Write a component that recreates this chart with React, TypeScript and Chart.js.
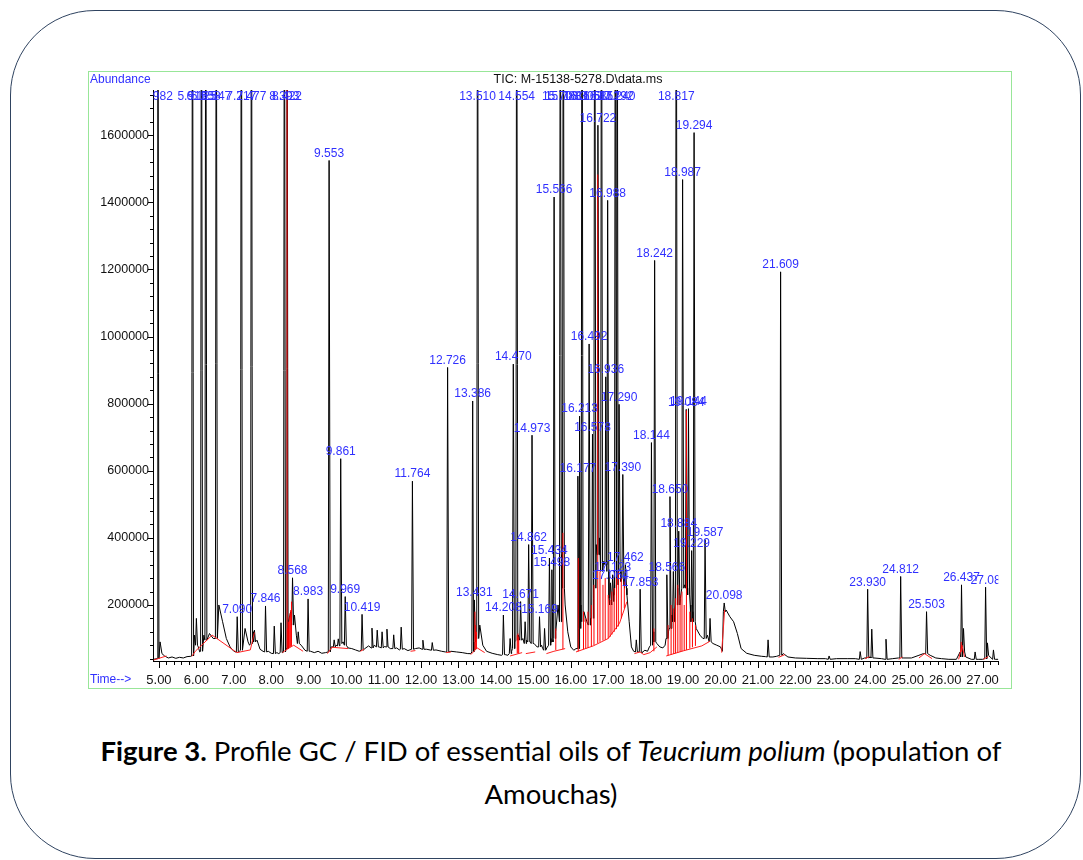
import React, { useEffect, useRef } from "react";
import { Chart, registerables } from "chart.js";
Chart.register(...registerables);

// ---------------- data ----------------
const peakTimes = [
  4.97, 5.895, 6.0, 6.135, 6.25, 6.53, 7.09, 7.2, 7.47, 7.55, 7.846, 8.08, 8.26, 8.35, 8.42,
  8.568, 8.72, 8.983, 9.545, 9.68, 9.79, 9.855, 9.975, 10.425, 10.69, 10.83, 10.96, 11.09,
  11.27, 11.47, 11.77, 12.05, 12.3, 12.71, 13.38, 13.425, 13.51, 14.2, 14.38, 14.465, 14.555,
  14.66, 14.78, 14.875, 14.965, 15.165, 15.3, 15.43, 15.495, 15.555, 15.72, 15.8, 16.19,
  16.235, 16.3, 16.49, 16.58, 16.64, 16.725, 16.82, 16.935, 16.985, 17.06, 17.12, 17.19,
  17.24, 17.29, 17.39, 17.46, 17.75, 17.853, 18.155, 18.24, 18.566, 18.65, 18.74, 18.817,
  18.884, 18.987, 19.084, 19.144, 19.229, 19.294, 19.587, 19.72, 20.098, 21.27, 21.605,
  22.9, 23.73, 23.93, 24.04, 24.42, 24.812, 25.503, 26.437, 26.49, 26.8, 27.08, 27.13, 27.29,
];
const peakHeights = [
  2500000, 2500000, 160000, 2500000, 2500000, 2500000, 165000, 2500000, 2500000, 125000, 197000,
  137000, 147000, 2500000, 2500000, 281000, 120000, 218000, 1525000, 96000, 99000, 636000,
  225000, 172000, 131000, 125000, 120000, 128000, 111000, 134000, 569000, 95000, 88000, 908000,
  808000, 215000, 2500000, 170000, 100000, 918000, 2500000, 210000, 150000, 380000, 706000,
  165000, 130000, 340000, 305000, 1416000, 2500000, 2500000, 584000, 763000, 2500000, 978000,
  709000, 2500000, 1630000, 2500000, 880000, 1406000, 266000, 290000, 2500000, 2500000, 798000,
  589000, 320000, 96000, 247000, 684000, 1227000, 290000, 523000, 300000, 2500000, 420000,
  1468000, 783000, 785000, 362000, 1608000, 395000, 160000, 206000, 96000, 1193000, 48000,
  61000, 247000, 128000, 98000, 285000, 180000, 260000, 130000, 60000, 253000, 87000, 66000,
];
const peakFeet = [
  40000, 48000, 80000, 62000, 95000, 100000, 60000, 65000, 85000, 90000, 60000, 55000, 58000,
  60000, 70000, 140000, 85000, 62000, 60000, 75000, 78000, 85000, 80000, 65000, 72000, 75000,
  72000, 75000, 70000, 68000, 68000, 68000, 65000, 60000, 60000, 90000, 100000, 52000, 55000,
  70000, 95000, 95000, 85000, 90000, 85000, 75000, 65000, 80000, 90000, 100000, 150000, 250000,
  70000, 130000, 150000, 140000, 160000, 250000, 350000, 300000, 320000, 300000, 200000, 210000,
  250000, 260000, 300000, 280000, 250000, 60000, 60000, 80000, 90000, 100000, 130000, 150000,
  200000, 200000, 250000, 250000, 230000, 150000, 150000, 100000, 90000, 180000, 45000, 50000,
  38000, 38000, 42000, 42000, 38000, 42000, 55000, 45000, 60000, 38000, 40000, 50000, 38000,
];
const peakLabels = [
  "4.982", "5.915", "", "6.125", "6.258", "6.547", "7.090", "7.217", "7.477", "", "7.846", "",
  "", "8.393", "8.422", "8.568", "", "8.983", "9.553", "", "", "9.861", "9.969", "10.419", "",
  "", "", "", "", "", "11.764", "", "", "12.726", "13.386", "13.431", "13.510", "14.208", "",
  "14.470", "14.554", "14.671", "", "14.862", "14.973", "15.169", "", "15.434", "15.498",
  "15.566", "15.708", "15.788", "16.177", "16.213", "16.305", "16.492", "16.578", "16.615",
  "16.722", "16.812", "16.936", "16.988", "17.064", "17.123", "17.192", "17.240", "17.290",
  "17.390", "17.462", "", "17.853", "18.144", "18.242", "18.566", "18.650", "", "18.817",
  "18.884", "18.987", "19.084", "19.144", "19.229", "19.294", "19.587", "", "20.098", "",
  "21.609", "", "", "23.930", "", "", "24.812", "25.503", "26.437", "", "", "27.08", "", "",
];

const valleyTimes = [
  4.85, 5.03, 5.08, 5.15, 5.25, 5.35, 5.45, 5.55, 5.65, 5.75, 5.85, 5.95, 6.05, 6.09, 6.2, 6.35,
  6.45, 6.6, 6.7, 6.8, 6.9, 7.0, 7.05, 7.15, 7.3, 7.38, 7.42, 7.52, 7.62, 7.7, 7.78, 7.92, 8.0,
  8.15, 8.2, 8.3, 8.46, 8.52, 8.62, 8.67, 8.8, 8.9, 9.05, 9.15, 9.25, 9.35, 9.45, 9.6, 9.73,
  9.92, 10.05, 10.15, 10.25, 10.35, 10.5, 10.6, 10.75, 10.9, 11.02, 11.18, 11.35, 11.42, 11.55,
  11.65, 11.85, 11.95, 12.15, 12.4, 12.55, 12.65, 12.8, 12.95, 13.1, 13.25, 13.33, 13.46,
  13.57, 13.65, 13.75, 13.9, 14.05, 14.15, 14.25, 14.32, 14.42, 14.51, 14.6, 14.72, 14.82,
  14.92, 15.02, 15.1, 15.22, 15.25, 15.36, 15.47, 15.52, 15.6, 15.66, 15.76, 15.85, 15.92, 16.0,
  16.08, 16.14, 16.27, 16.35, 16.43, 16.53, 16.61, 16.68, 16.77, 16.88, 16.96, 17.02, 17.09,
  17.155, 17.265, 17.34, 17.42, 17.5, 17.56, 17.62, 17.68, 17.8, 17.9, 17.98, 18.05, 18.1, 18.2,
  18.3, 18.38, 18.46, 18.52, 18.61, 18.7, 18.78, 18.85, 18.93, 19.04, 19.19, 19.26, 19.35,
  19.45, 19.53, 19.65, 19.8, 19.9, 20.0, 20.05, 20.15, 20.25, 20.35, 20.45, 20.55, 20.7, 20.9,
  21.1, 21.2, 21.4, 21.5, 21.68, 21.8, 22.0, 22.3, 22.6, 22.8, 23.1, 23.4, 23.6, 23.85, 24.0,
  24.1, 24.3, 24.6, 24.75, 24.9, 25.1, 25.3, 25.42, 25.6, 25.75, 25.9, 26.1, 26.3, 26.4, 26.55,
  26.7, 26.9, 27.0, 27.2, 27.35, 27.42,
];
const valleyValues = [
  38000, 90000, 55000, 48000, 42000, 45000, 41000, 44000, 42000, 46000, 47000, 110000, 75000,
  60000, 110000, 115000, 100000, 200000, 150000, 100000, 75000, 62000, 60000, 62000, 130000,
  90000, 80000, 120000, 95000, 68000, 62000, 62000, 56000, 58000, 55000, 60000, 150000, 180000,
  170000, 110000, 80000, 65000, 62000, 58000, 62000, 56000, 58000, 75000, 80000, 90000, 72000,
  70000, 66000, 62000, 70000, 78000, 80000, 74000, 76000, 70000, 72000, 66000, 70000, 64000,
  70000, 72000, 68000, 66000, 62000, 60000, 62000, 60000, 58000, 55000, 55000, 110000, 140000,
  80000, 62000, 56000, 52000, 50000, 52000, 50000, 62000, 90000, 110000, 100000, 95000, 90000,
  85000, 75000, 80000, 70000, 72000, 100000, 95000, 120000, 200000, 350000, 200000, 120000,
  75000, 65000, 70000, 200000, 180000, 150000, 160000, 220000, 380000, 400000, 330000, 330000,
  220000, 210000, 230000, 300000, 270000, 260000, 230000, 150000, 75000, 62000, 60000, 58000,
  65000, 62000, 75000, 120000, 85000, 75000, 72000, 80000, 120000, 170000, 180000, 250000,
  220000, 260000, 200000, 180000, 130000, 110000, 100000, 110000, 85000, 80000, 75000, 62000,
  185000, 165000, 150000, 115000, 70000, 56000, 50000, 47000, 46000, 45000, 47000, 55000, 45000,
  42000, 41000, 40000, 40000, 40000, 40000, 40000, 42000, 45000, 42000, 40000, 40000, 42000,
  42000, 42000, 50000, 55000, 50000, 42000, 40000, 38000, 38000, 60000, 45000, 38000, 38000,
  38000, 45000, 38000, 38000,
];

const redBaseTimes = [
  4.86, 5.2, 5.2, 5.88, 5.97, 6.42, 7.08, 7.44, 7.55, 7.55, 8.3, 8.42, 8.6, 8.85, 8.85, 9.5,
  9.62, 10.05, 10.05, 10.38, 10.48, 10.48, 11.72, 11.85, 11.85, 12.67, 12.8, 12.8, 13.33, 13.5,
  13.7, 13.7, 14.38, 14.7, 14.7, 14.8, 15.05, 15.05, 15.35, 15.55, 15.85, 15.85, 16.14, 16.6,
  17.0, 17.3, 17.5, 17.5, 17.7, 17.85, 17.95, 18.12, 18.3, 18.3, 18.55, 19.0, 19.5, 19.72,
  19.72, 20.03, 20.11, 20.11, 21.55, 21.72, 21.72, 23.86, 23.98, 23.98, 24.76, 24.86, 24.86,
  25.3, 25.45, 25.65, 25.65, 26.36, 26.45, 26.52, 26.52, 27.02, 27.15,
];
const redBaseValues = [
  36000, 48000, null, 47000, 62000, 110000, 58000, 66000, 118000, null, 58000, 68000, 80000,
  62000, null, 55000, 74000, 70000, null, 62000, 68000, null, 62000, 64000, null, 58000, 60000,
  null, 52000, 72000, 58000, null, 48000, 58000, null, 55000, 60000, null, 55000, 62000, 70000,
  null, 60000, 78000, 100000, 145000, 210000, null, 55000, 60000, 52000, 58000, 75000, null,
  48000, 63000, 78000, 92000, null, 58000, 185000, null, 44000, 52000, null, 40000, 46000,
  null, 38000, 45000, null, 42000, 55000, 40000, null, 38000, 80000, 45000, null, 38000, 46000,
];

const dropTimes = [
  8.422, 8.44, 8.46, 8.48, 8.5, 8.52, 8.54, 13.44, 13.46, 13.48, 14.57, 14.59, 14.61, 15.6,
  15.79, 16.2, 16.34, 16.4, 16.46, 16.55, 16.62, 16.72, 16.78, 16.86, 16.92, 17.0, 17.05, 17.1,
  17.16, 17.22, 17.27, 17.35, 17.43, 18.22, 18.6, 18.68, 18.75, 18.8, 18.86, 18.92, 18.97,
  19.03, 19.09, 19.18, 19.25, 19.33, 26.43,
];
const dropBottoms = [
  68000, 70000, 72000, 73000, 74000, 76000, 78000, 66000, 68000, 70000, 56000, 56000, 56000,
  66000, 68000, 62000, 68000, 70000, 72000, 76000, 80000, 86000, 90000, 94000, 96000, 100000,
  105000, 112000, 120000, 128000, 136000, 160000, 190000, 62000, 50000, 52000, 54000, 56000,
  58000, 60000, 62000, 64000, 66000, 70000, 74000, 78000, 60000,
];
const dropTops = [
  2500000, 130000, 150000, 165000, 175000, 185000, 210000, 180000, 140000, 120000, 110000,
  115000, 105000, 130000, 415000, 340000, 180000, 160000, 180000, 200000, 260000, 1483000,
  300000, 260000, 280000, 230000, 215000, 240000, 250000, 280000, 300000, 280000, 270000,
  130000, 140000, 200000, 190000, 220000, 260000, 230000, 240000, 200000, 780000, 180000,
  160000, 140000, 90000,
];

const yTickValues = [200000, 400000, 600000, 800000, 1000000, 1200000, 1400000, 1600000];
const xTickValues = [5, 6, 7, 8, 9, 10, 11, 12, 13, 14, 15, 16, 17, 18, 19, 20, 21, 22, 23, 24, 25, 26, 27];
const chartTitle = "TIC: M-15138-5278.D\\data.ms";
const yAxisTitle = "Abundance";
const xAxisTitle = "Time-->";

// ---------------- helpers ----------------
const X_MIN = 4.841;
const X_MAX = 27.42;
const Y_MIN = 33000;
const Y_MAX = 1735000;
const LABEL_COLOR = "rgb(48,48,255)";
const AXIS_FONT = "'Liberation Sans', Arial, sans-serif";

function buildTrace() {
  const pts: { x: number; y: number }[] = [];
  valleyTimes.forEach((t, i) => pts.push({ x: t, y: valleyValues[i] }));
  peakTimes.forEach((t, i) => {
    pts.push({ x: t - 0.022, y: peakFeet[i] });
    pts.push({ x: t, y: peakHeights[i] });
    pts.push({ x: t + 0.03, y: peakFeet[i] });
  });
  pts.sort((a, b) => a.x - b.x);
  return pts;
}

function buildRedBase() {
  return redBaseTimes.map((t, i) => ({ x: t, y: redBaseValues[i] as number | null }));
}

function buildDrops() {
  const pts: { x: number; y: number | null }[] = [];
  dropTimes.forEach((t, i) => {
    pts.push({ x: t, y: dropBottoms[i] });
    pts.push({ x: t, y: dropTops[i] });
    pts.push({ x: t, y: null });
  });
  return pts;
}

const decorPlugin = {
  id: "decor",
  afterDraw(chart: any) {
    const ctx = chart.ctx as CanvasRenderingContext2D;
    const area = chart.chartArea;
    const xs = chart.scales.x;
    const ys = chart.scales.y;
    ctx.save();
    // minor / major ticks
    ctx.strokeStyle = "#000";
    ctx.lineWidth = 1;
    ctx.beginPath();
    for (let v = 40000; v <= Y_MAX; v += 40000) {
      const y = Math.round(ys.getPixelForValue(v)) + 0.5;
      const len = v % 200000 === 0 ? 5 : 3;
      ctx.moveTo(area.left - len, y);
      ctx.lineTo(area.left, y);
    }
    for (let k = 25; k <= 137; k++) {
      const t = k / 5;
      if (t < X_MIN || t > X_MAX) continue;
      const x = Math.round(xs.getPixelForValue(t)) + 0.5;
      const len = k % 5 === 0 ? 7 : 4;
      ctx.moveTo(x, area.bottom);
      ctx.lineTo(x, area.bottom + len);
    }
    ctx.stroke();

    // peak labels
    ctx.save();
    ctx.beginPath();
    ctx.rect(area.left, 0, area.right - area.left, area.bottom);
    ctx.clip();
    ctx.font = `12px ${AXIS_FONT}`;
    ctx.fillStyle = LABEL_COLOR;
    ctx.textAlign = "center";
    ctx.textBaseline = "bottom";
    peakLabels.forEach((lab, i) => {
      if (!lab) return;
      const x = xs.getPixelForValue(peakTimes[i]);
      const h = peakHeights[i];
      let yb: number;
      if (h >= Y_MAX) yb = area.top + 13;
      else yb = ys.getPixelForValue(h) - 1;
      ctx.fillText(lab, x, yb);
    });
    ctx.restore();

    // titles
    ctx.font = `12px ${AXIS_FONT}`;
    ctx.textBaseline = "middle";
    ctx.fillStyle = LABEL_COLOR;
    ctx.textAlign = "left";
    ctx.fillText(yAxisTitle, 1, 8);
    ctx.fillText(xAxisTitle, 1, 608);
    ctx.fillStyle = "#111";
    ctx.textAlign = "center";
    ctx.font = `12.5px ${AXIS_FONT}`;
    ctx.fillText(chartTitle, 489, 8);
    ctx.restore();
  },
};

function GCChart() {
  const ref = useRef<HTMLCanvasElement | null>(null);
  useEffect(() => {
    if (!ref.current) return;
    const chart = new Chart(ref.current, {
      type: "line",
      data: {
        datasets: [
          {
            data: buildDrops() as any,
            borderColor: "#ff0000",
            borderWidth: 1,
            pointRadius: 0,
            spanGaps: false,
            tension: 0,
          },
          {
            data: buildRedBase() as any,
            borderColor: "#ff2020",
            borderWidth: 1,
            pointRadius: 0,
            spanGaps: false,
            tension: 0,
          },
          {
            data: buildTrace() as any,
            borderColor: "#000000",
            borderWidth: 1,
            pointRadius: 0,
            tension: 0,
          },
        ],
      },
      options: {
        animation: false,
        responsive: true,
        maintainAspectRatio: false,
        parsing: false as any,
        normalized: true,
        events: [],
        layout: { padding: { left: 0, right: 8, top: 18, bottom: 0 } },
        plugins: { legend: { display: false }, tooltip: { enabled: false }, title: { display: false } },
        scales: {
          x: {
            type: "linear",
            min: X_MIN,
            max: X_MAX,
            afterFit: (s: any) => {
              s.height = 27;
            },
            afterBuildTicks: (s: any) => {
              s.ticks = xTickValues.map((v) => ({ value: v }));
            },
            grid: { display: false, drawTicks: false, tickLength: 0 },
            border: { display: true, color: "#000", width: 1 },
            ticks: {
              autoSkip: false,
              maxRotation: 0,
              padding: 12,
              color: "#111",
              font: { family: "'Liberation Sans Narrow', 'Liberation Sans', Arial", size: 13 },
              callback: (v: any) => Number(v).toFixed(2),
            },
          },
          y: {
            type: "linear",
            min: Y_MIN,
            max: Y_MAX,
            afterFit: (s: any) => {
              s.width = 64;
            },
            afterBuildTicks: (s: any) => {
              s.ticks = yTickValues.map((v) => ({ value: v }));
            },
            grid: { display: false, drawTicks: false, tickLength: 0 },
            border: { display: true, color: "#000", width: 1 },
            ticks: {
              autoSkip: false,
              padding: 4,
              color: "#111",
              font: { family: AXIS_FONT, size: 12.5 },
              callback: (v: any) => String(v),
            },
          },
        },
      },
      plugins: [decorPlugin],
    });
    return () => chart.destroy();
  }, []);
  return (
    <div style={{ position: "absolute", left: 89, top: 72, width: 922, height: 616 }}>
      <canvas ref={ref} />
    </div>
  );
}

export default function App() {
  return (
    <div
      style={{
        position: "absolute",
        left: 0,
        top: 0,
        width: 1083,
        height: 860,
        overflow: "hidden",
        background: "#fff",
      }}
    >
      <div
        style={{
          position: "absolute",
          left: 10,
          top: 10,
          width: 1071,
          height: 849,
          boxSizing: "border-box",
          border: "1.5px solid #2f4360",
          borderRadius: 85,
        }}
      />
      <div
        style={{
          position: "absolute",
          left: 88,
          top: 71,
          width: 924,
          height: 618,
          boxSizing: "border-box",
          border: "1px solid #98e698",
        }}
      />
      <GCChart />
      <div
        style={{
          position: "absolute",
          left: 20,
          top: 729,
          width: 1062,
          textAlign: "center",
          fontFamily: "Lato, 'Open Sans', sans-serif",
          fontSize: 27.5,
          lineHeight: "43px",
          color: "#000",
        }}
      >
        <b>Figure 3.</b> Profile GC / FID of essential oils of <i>Teucrium polium</i> (population of
        <br />
        Amouchas)
      </div>
    </div>
  );
}
